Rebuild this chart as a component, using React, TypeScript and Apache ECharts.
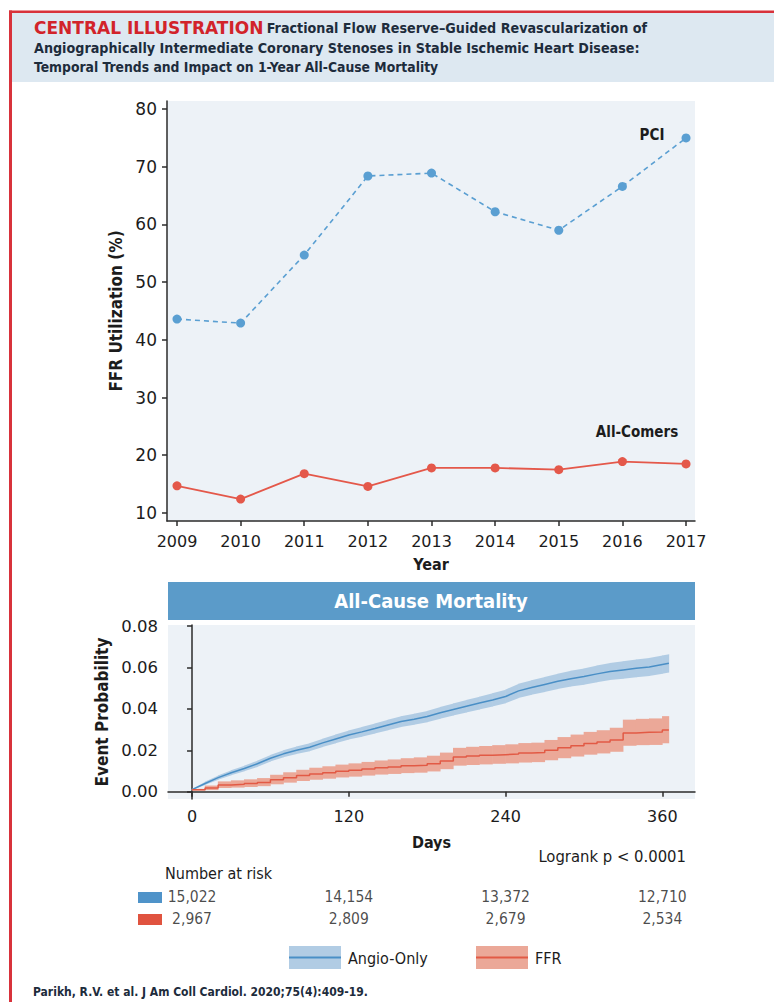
import React, { useEffect, useRef } from "react";
import * as echarts from "echarts";

const COND = "'DejaVu Sans Condensed', 'Liberation Sans Narrow', 'Roboto', sans-serif";
const WIDE = "'DejaVu Sans', 'Open Sans', sans-serif";

// ---- Top panel: FFR utilization by year ----
const years = [2009, 2010, 2011, 2012, 2013, 2014, 2015, 2016, 2017];
const pciValues = [43.6, 42.9, 54.7, 68.4, 68.9, 62.2, 59.0, 66.6, 75.0];
const allComersValues = [14.7, 12.4, 16.8, 14.6, 17.8, 17.8, 17.5, 18.9, 18.5];
const utilTicks = [10, 20, 30, 40, 50, 60, 70, 80];

// ---- Bottom panel: all-cause mortality (Kaplan-Meier) ----
const days = [0, 10, 20, 30, 40, 50, 60, 70, 80, 90, 100, 110, 120, 130, 140, 150, 160, 170, 180, 190, 200, 210, 220, 230, 240, 250, 260, 270, 280, 290, 300, 310, 320, 330, 340, 350, 360, 365];
const angioEst = [0.001, 0.004, 0.0068, 0.0092, 0.0112, 0.0135, 0.0162, 0.0183, 0.02, 0.0215, 0.0236, 0.0255, 0.0274, 0.0289, 0.0305, 0.0322, 0.0339, 0.035, 0.0363, 0.0381, 0.0397, 0.0413, 0.0428, 0.0443, 0.046, 0.0487, 0.0503, 0.0518, 0.0533, 0.0546, 0.0556, 0.0569, 0.058, 0.0588, 0.0596, 0.0602, 0.0614, 0.062];
const angioLow = [0.0008, 0.0033, 0.0058, 0.008, 0.0099, 0.012, 0.0146, 0.0166, 0.0182, 0.0196, 0.0216, 0.0234, 0.0252, 0.0266, 0.0281, 0.0297, 0.0313, 0.0324, 0.0336, 0.0353, 0.0368, 0.0383, 0.0397, 0.0411, 0.0427, 0.0453, 0.0468, 0.0482, 0.0496, 0.0508, 0.0517, 0.0529, 0.0539, 0.0546, 0.0553, 0.0559, 0.057, 0.0576];
const angioHigh = [0.0012, 0.0048, 0.0079, 0.0104, 0.0126, 0.015, 0.0178, 0.02, 0.0218, 0.0234, 0.0256, 0.0276, 0.0296, 0.0312, 0.0329, 0.0347, 0.0365, 0.0377, 0.039, 0.0409, 0.0426, 0.0443, 0.0459, 0.0475, 0.0493, 0.0521, 0.0538, 0.0554, 0.057, 0.0584, 0.0595, 0.0609, 0.0621, 0.063, 0.0639, 0.0646, 0.0658, 0.0664];
const ffrEst = [0.001, 0.0018, 0.0033, 0.0036, 0.004, 0.0045, 0.0058, 0.0068, 0.0078, 0.0086, 0.0092, 0.0099, 0.0104, 0.011, 0.0116, 0.012, 0.0125, 0.0128, 0.0135, 0.0148, 0.0168, 0.0172, 0.0176, 0.0179, 0.0182, 0.0187, 0.0189, 0.02, 0.0212, 0.0222, 0.0233, 0.024, 0.025, 0.0284, 0.0287, 0.0288, 0.0298, 0.03];
const ffrLow = [0.0006, 0.0008, 0.0018, 0.002, 0.0023, 0.0027, 0.0036, 0.0044, 0.0052, 0.0058, 0.0063, 0.0069, 0.0073, 0.0078, 0.0083, 0.0086, 0.009, 0.0092, 0.0098, 0.0109, 0.0126, 0.0129, 0.0132, 0.0135, 0.0137, 0.0141, 0.0143, 0.0152, 0.0162, 0.017, 0.0179, 0.0185, 0.0193, 0.0222, 0.0225, 0.0226, 0.0234, 0.0236];
const ffrHigh = [0.0014, 0.003, 0.005, 0.0055, 0.006, 0.0066, 0.0082, 0.0094, 0.0106, 0.0116, 0.0123, 0.0131, 0.0137, 0.0144, 0.0151, 0.0156, 0.0162, 0.0166, 0.0174, 0.0189, 0.0212, 0.0217, 0.0221, 0.0225, 0.0229, 0.0235, 0.0237, 0.025, 0.0264, 0.0276, 0.0289, 0.0297, 0.0309, 0.0348, 0.0352, 0.0354, 0.0365, 0.0367];
const probTicks = [0, 0.02, 0.04, 0.06, 0.08];
const dayTicks = [0, 120, 240, 360];

// ---- Number at risk ----
const riskDays = [0, 120, 240, 360];
const angioAtRisk = [15022, 14154, 13372, 12710];
const ffrAtRisk = [2967, 2809, 2679, 2534];

const BLUE = "#5a9fd2";
const RED = "#e4584a";
const KM_BLUE = "#4a8fc6";
const KM_RED = "#e25a45";
const BAND_BLUE = "#b1cce4";
const BAND_RED = "#eba898";
const PLOT_BG = "#edf2f7";
const AXIS = "#2b2b2b";
const TXT = "#1c1c1c";

const fmt = (n: number) => n.toLocaleString("en-US");

function App() {
  const ref = useRef<HTMLDivElement>(null);
  useEffect(() => {
    if (!ref.current) return;
    const chart = echarts.init(ref.current, null, { renderer: "svg" });

    const axisLine = { show: true, lineStyle: { color: AXIS, width: 1.5 } };
    const axisTick = { show: true, length: 5, lineStyle: { color: AXIS, width: 1.5 } };
    const lbl = { color: TXT, fontSize: 16.5, fontFamily: WIDE };
    const nameStyle = { color: TXT, fontSize: 16, fontWeight: "bold", fontFamily: COND };
    const yNameStyle = { color: TXT, fontSize: 17, fontWeight: "bold", fontFamily: COND };

    const kmPairs = (arr: number[]) => days.map((d, i) => [d, arr[i]]);
    // each segment: [startDay, endDay, lowStart, highStart, lowEnd, highEnd]
    const bandSegs = (lo: number[], hi: number[]) =>
      days.slice(0, -1).map((d, i) => [d, days[i + 1], lo[i], hi[i], lo[i + 1], hi[i + 1]]);

    const band = (name: string, lo: number[], hi: number[], color: string, stepped: boolean) => ({
      type: "custom",
      name,
      xAxisIndex: 1,
      yAxisIndex: 1,
      silent: true,
      z: 2,
      data: bandSegs(lo, hi),
      encode: { x: [0, 1], y: [2, 3, 4, 5] },
      renderItem: (params: any, api: any) => {
        const x0 = api.value(0), x1 = api.value(1);
        const l0 = api.value(2), h0 = api.value(3);
        const l1 = stepped ? l0 : api.value(4);
        const h1 = stepped ? h0 : api.value(5);
        const a = api.coord([x0, h0]);
        const b = api.coord([x1, h1]);
        const c = api.coord([x1, l1]);
        const d = api.coord([x0, l0]);
        return {
          type: "polygon",
          shape: { points: [[a[0] - 0.3, a[1]], [b[0] + 0.3, b[1]], [c[0] + 0.3, c[1]], [d[0] - 0.3, d[1]]] },
          style: { fill: color },
        };
      },
    });

    const kmLine = (name: string, data: any, color: string, stepped: boolean) => ({
      type: "line",
      name,
      xAxisIndex: 1,
      yAxisIndex: 1,
      step: stepped ? "end" : false,
      symbol: "none",
      silent: true,
      data,
      lineStyle: { color, width: 1.5 },
      z: 4,
    });

    const option: any = {
      animation: false,
      grid: [
        { left: 167, top: 101, right: 79, bottom: 481, show: true, backgroundColor: PLOT_BG, borderWidth: 0 },
        { left: 168, top: 625, right: 79, bottom: 203, show: true, backgroundColor: PLOT_BG, borderWidth: 0 },
        { left: 168, top: 886, right: 79, height: 44, show: false },
      ],
      xAxis: [
        {
          type: "value", gridIndex: 0, min: 2008.843, max: 2017.141,
          axisLine, axisTick: { ...axisTick, customValues: years },
          axisLabel: { ...lbl, fontSize: 16, margin: 12, customValues: years, formatter: (v: number) => String(v) },
          splitLine: { show: false },
          name: "Year", nameLocation: "middle", nameGap: 35, nameTextStyle: nameStyle,
        },
        {
          type: "value", gridIndex: 1, min: -18.4, max: 385,
          axisLine, axisTick: { ...axisTick, customValues: dayTicks },
          axisLabel: { ...lbl, fontSize: 16, margin: 9, customValues: dayTicks },
          splitLine: { show: false },
          name: "Days", nameLocation: "middle", nameGap: 35, nameTextStyle: nameStyle,
        },
        { type: "value", gridIndex: 2, min: -18.4, max: 385, show: false },
      ],
      yAxis: [
        {
          type: "value", gridIndex: 0, min: 8.6, max: 81.4,
          axisLine, axisTick: { ...axisTick, customValues: utilTicks },
          axisLabel: { ...lbl, fontSize: 17, margin: 10, customValues: utilTicks },
          splitLine: { show: false },
          name: "FFR Utilization (%)", nameLocation: "middle", nameGap: 37, nameTextStyle: yNameStyle,
        },
        {
          type: "value", gridIndex: 1, min: -0.0035, max: 0.0805,
          axisLine, axisTick: { ...axisTick, customValues: probTicks },
          axisLabel: { ...lbl, fontSize: 16.5, margin: 10, customValues: probTicks, formatter: (v: number) => v.toFixed(2) },
          splitLine: { show: false },
          name: "Event Probability", nameLocation: "middle", nameGap: 54, nameTextStyle: yNameStyle,
        },
        { type: "value", gridIndex: 2, min: 0, max: 2, show: false },
      ],
      series: [
        {
          type: "line", name: "PCI", xAxisIndex: 0, yAxisIndex: 0,
          data: years.map((y, i) => [y, pciValues[i]]),
          symbol: "circle", symbolSize: 9,
          itemStyle: { color: BLUE },
          lineStyle: { color: BLUE, width: 1.6, type: [5, 4] },
          z: 3,
        },
        {
          type: "line", name: "All-Comers", xAxisIndex: 0, yAxisIndex: 0,
          data: years.map((y, i) => [y, allComersValues[i]]),
          symbol: "circle", symbolSize: 9,
          itemStyle: { color: RED },
          lineStyle: { color: RED, width: 1.8 },
          z: 3,
        },
        band("angioBand", angioLow, angioHigh, BAND_BLUE, false),
        band("ffrBand", ffrLow, ffrHigh, BAND_RED, true),
        kmLine("Angio-Only", kmPairs(angioEst), KM_BLUE, false),
        kmLine("FFR", kmPairs(ffrEst), KM_RED, true),
        {
          type: "scatter", xAxisIndex: 2, yAxisIndex: 2, symbolSize: 0, silent: true,
          data: riskDays.map((d, i) => [d, 1.5, angioAtRisk[i]]),
          label: { show: true, position: "inside", formatter: (p: any) => fmt(p.value[2]), color: TXT, fontSize: 15.5, fontFamily: COND },
        },
        {
          type: "scatter", xAxisIndex: 2, yAxisIndex: 2, symbolSize: 0, silent: true,
          data: riskDays.map((d, i) => [d, 0.5, ffrAtRisk[i]]),
          label: { show: true, position: "inside", formatter: (p: any) => fmt(p.value[2]), color: TXT, fontSize: 15.5, fontFamily: COND },
        },
      ],
      graphic: [
        // header
        { type: "rect", shape: { x: 12, y: 13, width: 762, height: 69 }, style: { fill: "#dde8f1" }, silent: true },
        { type: "rect", shape: { x: 9, y: 10.5, width: 765, height: 2.5 }, style: { fill: "#d8323b" }, silent: true },
        { type: "rect", shape: { x: 9, y: 10.5, width: 3, height: 992 }, style: { fill: "#d8323b" }, silent: true },
        {
          type: "text", x: 34, y: 28, silent: true,
          style: {
            text: "{a|CENTRAL ILLUSTRATION} {b|Fractional Flow Reserve–Guided Revascularization of}",
            verticalAlign: "middle",
            rich: {
              a: { fontFamily: WIDE, fontWeight: "bold", fontSize: 17, fill: "#d2232a", color: "#d2232a" },
              b: { fontFamily: COND, fontWeight: "bold", fontSize: 14.2, fill: "#1d2c3c", color: "#1d2c3c" },
            },
          },
        },
        { type: "text", x: 34, y: 48, silent: true, style: { text: "Angiographically Intermediate Coronary Stenoses in Stable Ischemic Heart Disease:", fontFamily: COND, fontWeight: "bold", fontSize: 14.2, fill: "#1d2c3c", verticalAlign: "middle" } },
        { type: "text", x: 34, y: 67, silent: true, style: { text: "Temporal Trends and Impact on 1-Year All-Cause Mortality", fontFamily: COND, fontWeight: "bold", fontSize: 13.8, fill: "#1d2c3c", verticalAlign: "middle" } },
        // series labels in top panel
        { type: "text", x: 652, y: 135, silent: true, style: { text: "PCI", fontFamily: COND, fontWeight: "bold", fontSize: 15, fill: TXT, align: "center", verticalAlign: "middle" } },
        { type: "text", x: 637, y: 432, silent: true, style: { text: "All-Comers", fontFamily: COND, fontWeight: "bold", fontSize: 15, fill: TXT, align: "center", verticalAlign: "middle" } },
        // banner
        { type: "rect", shape: { x: 168, y: 582, width: 527, height: 38 }, style: { fill: "#5b9bc9" }, silent: true },
        { type: "text", x: 431, y: 601, silent: true, style: { text: "All-Cause Mortality", fontFamily: COND, fontWeight: "bold", fontSize: 20, fill: "#ffffff", align: "center", verticalAlign: "middle" } },
        // logrank
        { type: "text", x: 686, y: 856, silent: true, style: { text: "Logrank p < 0.0001", fontFamily: COND, fontSize: 16.5, fill: TXT, align: "right", verticalAlign: "middle" } },
        // number at risk
        { type: "text", x: 165, y: 873, silent: true, style: { text: "Number at risk", fontFamily: COND, fontSize: 16, fill: TXT, verticalAlign: "middle" } },
        { type: "rect", shape: { x: 138, y: 892, width: 24, height: 11 }, style: { fill: "#4f93c9" }, silent: true },
        { type: "rect", shape: { x: 138, y: 914, width: 24, height: 11 }, style: { fill: "#e0533f" }, silent: true },
        // legend
        { type: "rect", shape: { x: 289, y: 946, width: 52, height: 23 }, style: { fill: BAND_BLUE }, silent: true },
        { type: "line", shape: { x1: 289, y1: 957.5, x2: 341, y2: 957.5 }, style: { stroke: KM_BLUE, lineWidth: 2 }, silent: true },
        { type: "text", x: 348, y: 958, silent: true, style: { text: "Angio-Only", fontFamily: COND, fontSize: 16, fill: TXT, verticalAlign: "middle" } },
        { type: "rect", shape: { x: 476, y: 946, width: 52, height: 23 }, style: { fill: BAND_RED }, silent: true },
        { type: "line", shape: { x1: 476, y1: 957.5, x2: 528, y2: 957.5 }, style: { stroke: KM_RED, lineWidth: 2 }, silent: true },
        { type: "text", x: 535, y: 958, silent: true, style: { text: "FFR", fontFamily: COND, fontSize: 16, fill: TXT, verticalAlign: "middle" } },
        // footer
        { type: "text", x: 33, y: 992, silent: true, style: { text: "Parikh, R.V. et al. J Am Coll Cardiol. 2020;75(4):409-19.", fontFamily: COND, fontWeight: "bold", fontSize: 12, fill: "#1d2c3c", verticalAlign: "middle" } },
      ],
    };

    chart.setOption(option);
    return () => chart.dispose();
  }, []);

  return <div ref={ref} style={{ position: "absolute", left: 0, top: 0, width: 774, height: 1002, background: "#ffffff" }} />;
}

export default App;
